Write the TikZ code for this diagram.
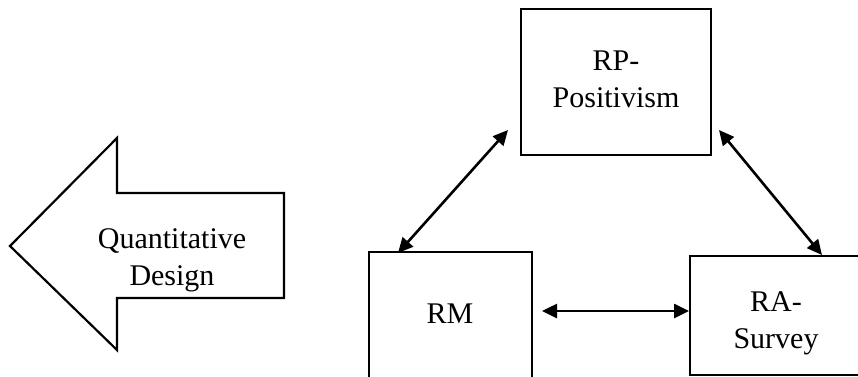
\documentclass[tikz,border=0pt]{standalone}
\usepackage{fontspec}
\setmainfont{Liberation Serif}
\usetikzlibrary{arrows.meta}
\begin{document}
\begin{tikzpicture}[x=1pt,y=-1pt,
  box/.style={draw, line width=2.2pt, rectangle, inner sep=0pt},
  lbl/.style={font=\fontsize{30}{37}\selectfont, align=center, inner sep=0pt, anchor=base},
  link/.style={line width=2.6pt, {Triangle[length=15pt,width=14pt]}-{Triangle[length=15pt,width=14pt]}}]
\useasboundingbox (0,0) rectangle (858,376);
% big left arrow
\draw[line width=2.2pt, line join=miter] (10,246) -- (117,138) -- (117,193) -- (284,193) -- (284,298) -- (117,298) -- (117,350) -- cycle;
\node[lbl] (qd) at (172,285) {Quantitative\\Design};
% boxes
\node[box, minimum width=190pt, minimum height=146pt] (RP) at (616,82) {};
\node[box, minimum width=163pt, minimum height=170pt] (RM) at (450.5,337) {};
\node[box, minimum width=190pt, minimum height=119pt] (RA) at (785,315.5) {};
\node[lbl] (RPt) at (616,107) {RP-\\Positivism};
\node[lbl] (RMt) at (450,323) {RM};
\node[lbl] (RAt) at (776,348) {RA-\\Survey};
% connector ends
\coordinate (a1) at (508,130);
\coordinate (a2) at (398,253);
\coordinate (b1) at (719,130);
\coordinate (b2) at (822,255);
\coordinate (c1) at (542,311);
\coordinate (c2) at (689,311);
\draw[link] (a1) -- (a2);
\draw[link] (b1) -- (b2);
\draw[link] (c1) -- (c2);
\end{tikzpicture}
\end{document}
